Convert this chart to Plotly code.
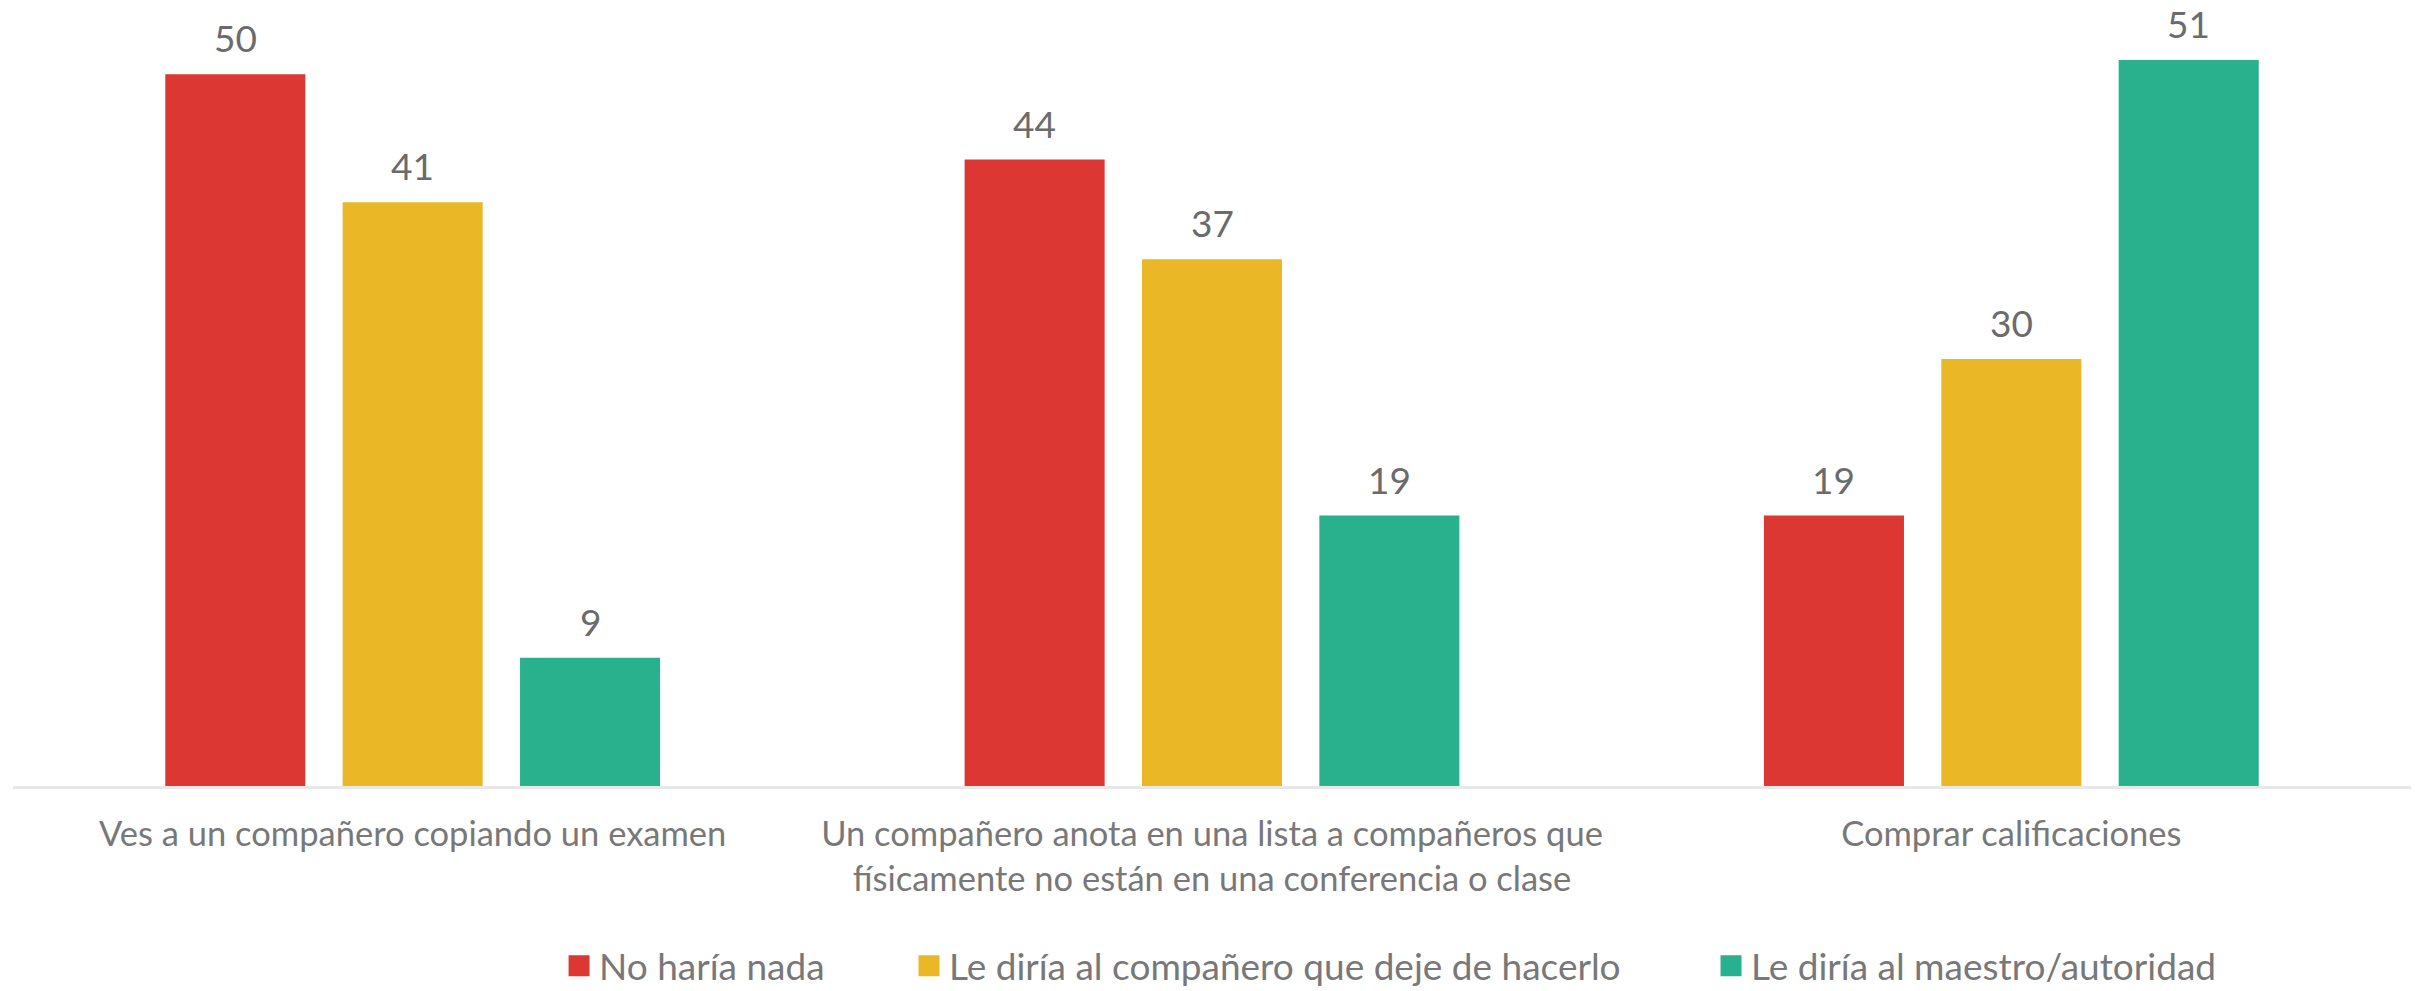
import plotly.graph_objects as go

categories = [
    "Ves a un compañero copiando un examen",
    "Un compañero anota en una lista a compañeros que<br>físicamente no están en una conferencia o clase",
    "Comprar calificaciones",
]
series_names = ["No haría nada", "Le diría al compañero que deje de hacerlo", "Le diría al maestro/autoridad"]
no_haria_nada = [50, 44, 19]
le_diria_companero = [41, 37, 30]
le_diria_maestro = [9, 19, 51]
colors = ["#DC3733", "#EAB826", "#28B18C"]

series_values = [no_haria_nada, le_diria_companero, le_diria_maestro]

FONT = "Lato"
W, H = 2415, 991
bar_w = 0.1752
pitch = 0.2219
xpos = list(range(len(categories)))

fig = go.Figure()
legend_ids = ["legend", "legend2", "legend3"]
for j, (name, vals, col) in enumerate(zip(series_names, series_values, colors)):
    fig.add_trace(go.Bar(
        x=xpos, y=vals, name=name, marker=dict(color=col, line=dict(width=0)),
        width=bar_w, offset=(j - 1) * pitch - bar_w / 2,
        showlegend=False,
    ))
    # legend-only entry with a larger square swatch
    fig.add_trace(go.Scatter(
        x=[None], y=[None], mode="markers", name=name,
        marker=dict(symbol="square", size=16, color=col, line=dict(color=col, width=5)),
        legend=legend_ids[j], showlegend=True, hoverinfo="skip",
    ))
    for i, v in enumerate(vals):
        fig.add_annotation(
            x=i + (j - 1) * pitch, y=v, text=str(v), showarrow=False,
            yanchor="bottom", yshift=12,
            font=dict(family=FONT, size=37, color="#6b6b6b"),
        )

leg_font = dict(family=FONT, size=37, color="#787878")
legend_x = [0.2315, 0.3764, 0.7085]
common = dict(orientation="h", xref="container", yref="container",
              y=0.025, yanchor="middle", xanchor="left",
              font=leg_font, bgcolor="rgba(0,0,0,0)")

fig.update_layout(
    width=W, height=H,
    margin=dict(l=13, r=4, t=3, b=205, autoexpand=False),
    paper_bgcolor="white", plot_bgcolor="white",
    barmode="overlay",
    showlegend=True,
    legend=dict(x=legend_x[0], **common),
    legend2=dict(x=legend_x[1], **common),
    legend3=dict(x=legend_x[2], **common),
    xaxis=dict(
        range=[-0.5, 2.5], tickmode="array", tickvals=xpos, ticktext=categories,
        showgrid=False, zeroline=False, showline=True, linecolor="#e8e8e8", linewidth=3,
        ticks="", tickfont=dict(family=FONT, size=34.5, color="#787878"),
        ticklabelstandoff=16,
    ),
    yaxis=dict(range=[0, 55], visible=False, showgrid=False, zeroline=False),
)

fig.write_html("out.html", config={"displayModeBar": False},
               post_script="document.body.style.margin='0';")
